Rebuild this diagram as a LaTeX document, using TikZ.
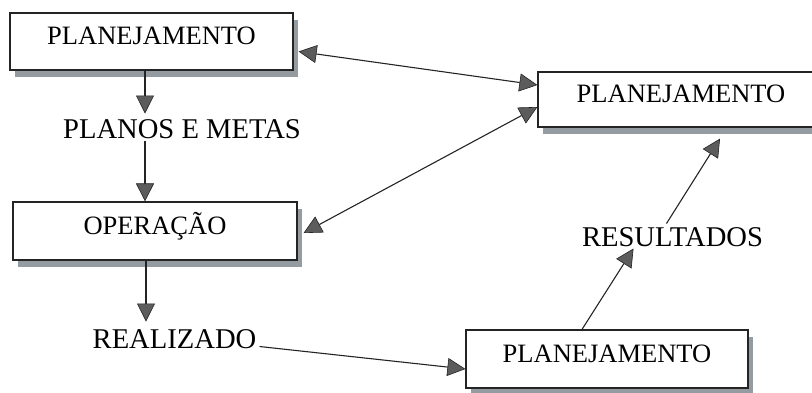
\documentclass[tikz,border=0pt]{standalone}
\usepackage{fontspec}
\setmainfont{Liberation Serif}
\usetikzlibrary{arrows.meta,shadows}

\definecolor{edge}{rgb}{0.14,0.14,0.14}
\definecolor{shade}{rgb}{0.58,0.61,0.63}
\definecolor{headfill}{rgb}{0.36,0.36,0.36}

\tikzset{
  box/.style={draw=edge, line width=1.2pt, fill=white, inner sep=0pt,
    font=\fontsize{26.5}{30}\selectfont, text height=0.66em, text depth=0pt,
    drop shadow={shadow xshift=5pt, shadow yshift=-7pt, fill=shade, opacity=1}},
  label/.style={inner sep=0pt, font=\fontsize{28.6}{32}\selectfont,
    text height=0.66em, text depth=0pt},
  head/.tip={Triangle[length=18pt,width=18pt,fill=headfill,color=edge,line width=0.6pt]},
  link/.style={draw=edge, line width=1.1pt, -head},
  twoway/.style={draw=edge, line width=1.1pt, head-head}
}

\begin{document}
\begin{tikzpicture}[x=1pt,y=-1pt]
\useasboundingbox (0,0) rectangle (812,392);
\clip (0,0) rectangle (812,392);

% boxes
\node[box, minimum width=283pt, minimum height=57pt] (plan1) at (151.5,41.5) {PLANEJAMENTO};
\node[box, minimum width=284pt, minimum height=58pt] (oper) at (155,231) {OPERAÇÃO};
\node[box, minimum width=286pt, minimum height=55pt] (plan2) at (681,99.5) {PLANEJAMENTO};
\node[box, minimum width=282pt, minimum height=58pt] (plan3) at (607,359) {PLANEJAMENTO};

% free labels
\node[label] (metas) at (182,135) {PLANOS E METAS};
\node[label] (real) at (174.5,345) {REALIZADO};
\node[label] (res) at (672.5,243) {RESULTADOS};

% column of the vertical flow
\coordinate (col) at (145,0);
\coordinate (col2) at (146,0);

% vertical flow on the left
\draw[link, shorten >=18pt] (plan1.south -| col) -- (metas.north -| col);
\draw[link, shorten <=2pt] (metas.south -| col) -- (oper.north -| col);
\draw[link, shorten >=20pt] (oper.south -| col2) -- (real.north -| col2);

% realised to the lower box
\draw[link] ([xshift=3pt,yshift=2pt]real.south east) -- ([yshift=-10pt]plan3.west);

% lower box up to the results and on to the right-hand box
\draw[link] ([xshift=-25pt]plan3.north) -- ([xshift=-39pt,yshift=-2pt]res.south);
\draw[link] ([xshift=-6pt,yshift=16pt]res.north) -- ([xshift=39pt,yshift=-11pt]plan2.south);

% two-way links to the right-hand box
\draw[twoway] ([xshift=5pt,yshift=-10pt]plan1.east) -- ([yshift=14.5pt]plan2.west);
\draw[twoway] ([xshift=6pt,yshift=-2pt]oper.east) -- ([yshift=-7.5pt]plan2.west);
\end{tikzpicture}
\end{document}
